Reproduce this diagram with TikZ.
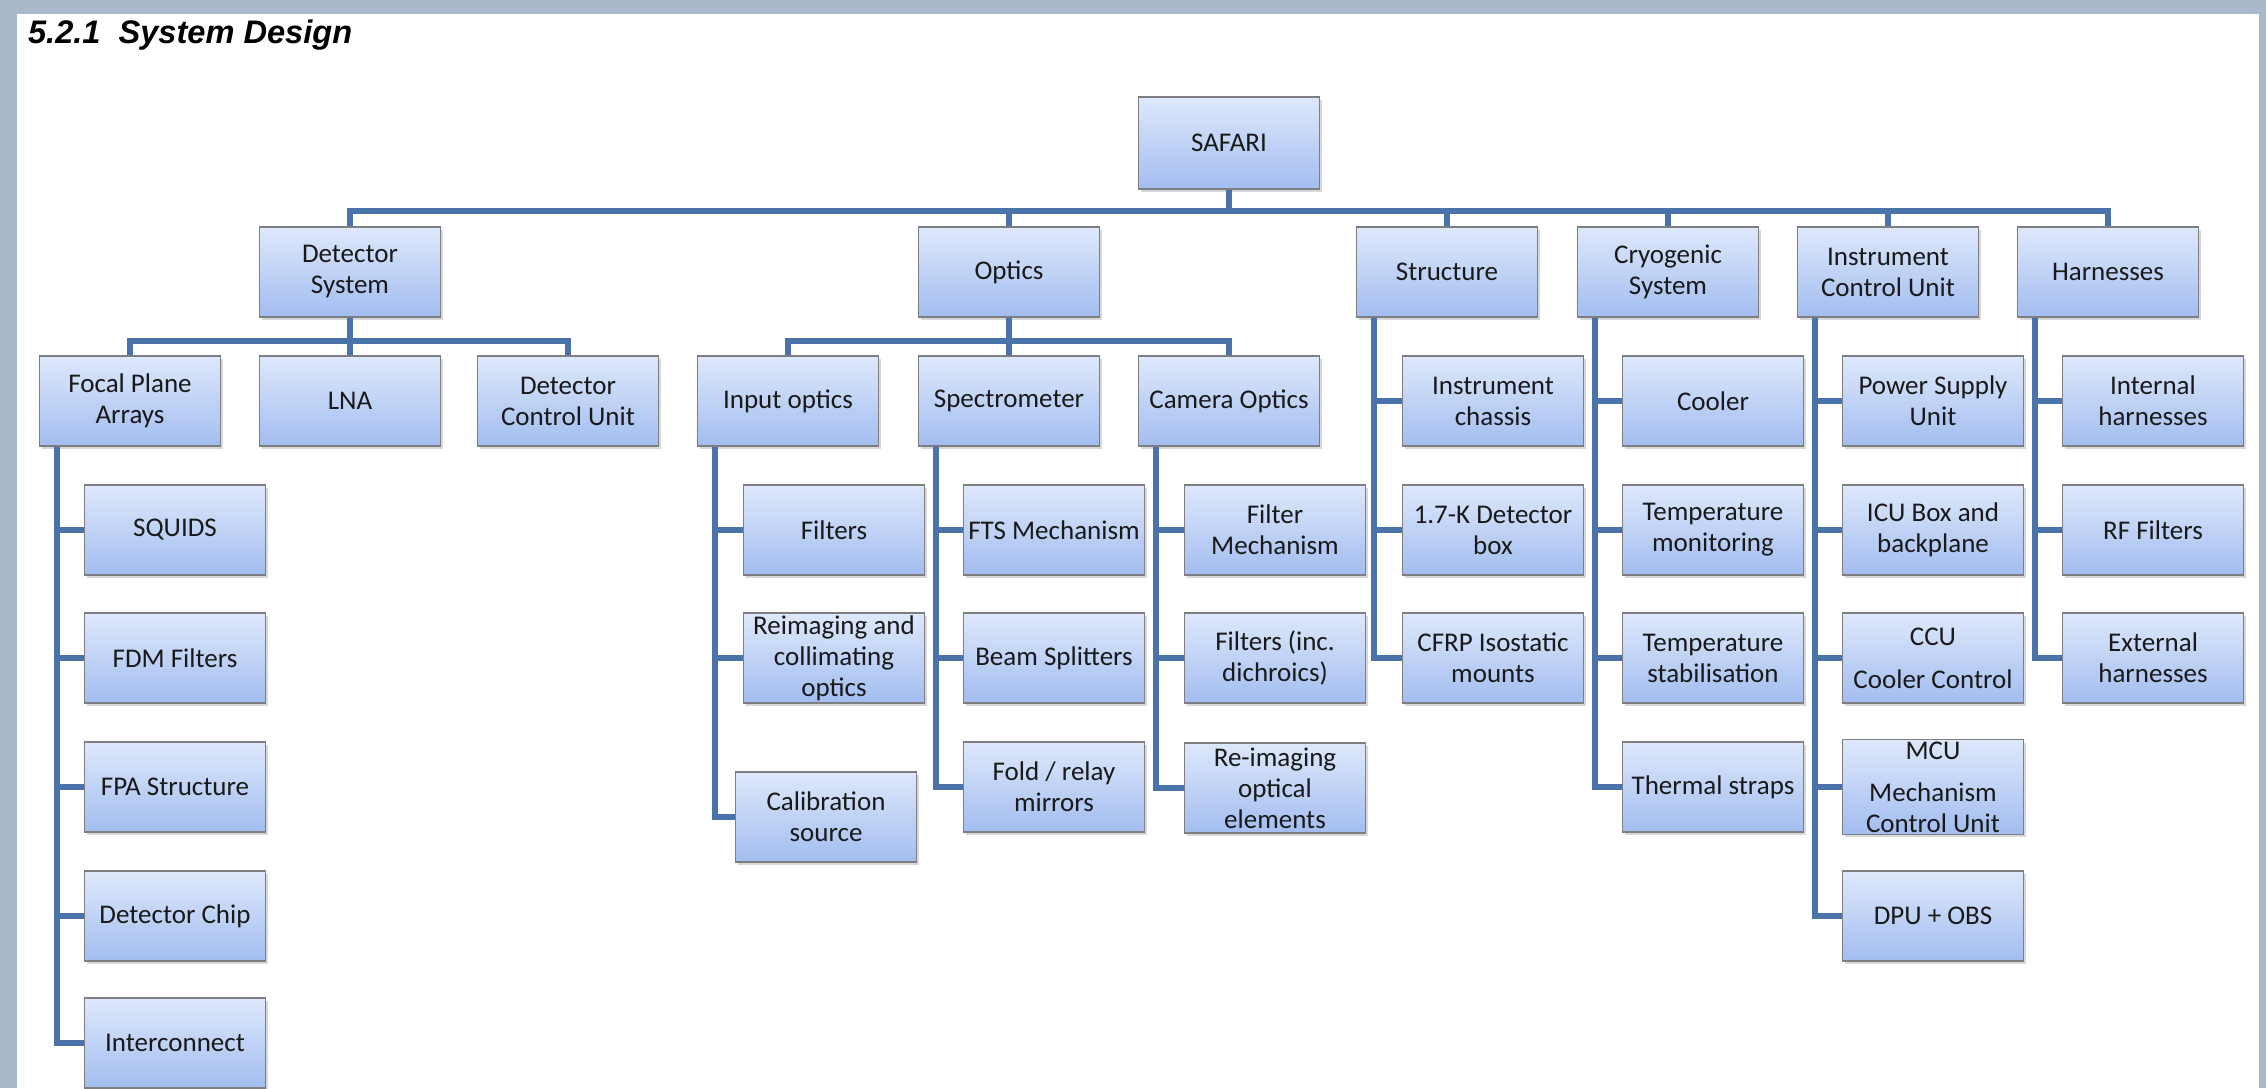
\documentclass[tikz,border=0pt]{standalone}
\usepackage{fontspec}
\setmainfont{Carlito}
\newfontfamily\headfont{Liberation Sans}
\usepackage{tikz}
\usetikzlibrary{calc}
\usetikzlibrary{shadows}
\usetikzlibrary{positioning}
\definecolor{framegray}{RGB}{167, 185, 202}
\definecolor{linkblue}{RGB}{74, 115, 170}
\definecolor{boxtop}{RGB}{222, 232, 251}
\definecolor{boxbottom}{RGB}{162, 189, 240}
\definecolor{boxedge}{RGB}{125, 125, 130}
\tikzset{
  box/.style={draw=boxedge, line width=0.6pt, top color=boxtop, bottom color=boxbottom,
              minimum width=90.5pt, minimum height=45pt, inner sep=1pt, align=center,
              text=black!90, font=\fontsize{13.5}{15.5}\selectfont,
              drop shadow={shadow xshift=1pt, shadow yshift=-1.5pt, opacity=0.3}},
  link/.style={draw=linkblue, line width=3pt},
  heading/.style={anchor=base west, font=\headfont\bfseries\itshape\fontsize{16.3}{19}\selectfont}
}

\begin{document}
\begin{tikzpicture}[x=0.5pt, y=-0.5pt]
            \fill[framegray]                (0, 0) rectangle (2266, 1088);
            \fill[white]                    (17, 14) rectangle (2259, 1088);
            \useasboundingbox               (0, 0) rectangle (2266, 1088);
            \node[heading] (head)           at (  21,   43) {5.2.1\hspace{9pt}System Design};

            % top and first level
            \node[box, minimum height=46pt] (safari) at (1229, 143) {SAFARI};
            \node[box] (det)      at ( 350,  272) {Detector\\System};
            \node[box] (opt)      at (1009,  272) {Optics};
            \node[box] (str)      at (1447,  272) {Structure};
            \node[box] (cry)      at (1668,  272) {Cryogenic\\System};
            \node[box] (icu)      at (1888,  272) {Instrument\\Control Unit};
            \node[box] (har)      at (2108,  272) {Harnesses};

            % detector system
            \node[box] (fpa)      at ( 130,  401) {Focal Plane\\Arrays};
            \node[box] (lna)      at ( 350,  401) {LNA};
            \node[box] (dcu)      at ( 568,  401) {Detector\\Control Unit};
            \node[box] (squids)   at ( 175,  530) {SQUIDS};
            \node[box] (fdm)      at ( 175,  658) {FDM Filters};
            \node[box] (fpastr)   at ( 175,  787) {FPA Structure};
            \node[box] (chip)     at ( 175,  916) {Detector Chip};
            \node[box] (intercon) at ( 175, 1043) {Interconnect};

            % optics
            \node[box] (inp)      at ( 788,  401) {Input optics};
            \node[box] (spe)      at (1009,  401) {Spectrometer};
            \node[box] (cam)      at (1229,  401) {Camera Optics};
            \node[box] (infil)    at ( 834,  530) {Filters};
            \node[box] (reimg)    at ( 834,  658) {Reimaging and\\collimating\\optics};
            \node[box] (calib)    at ( 826,  817) {Calibration\\source};
            \node[box] (fts)      at (1054,  530) {FTS Mechanism};
            \node[box] (split)    at (1054,  658) {Beam Splitters};
            \node[box] (fold)     at (1054,  787) {Fold / relay\\mirrors};
            \node[box] (filmech)  at (1275,  530) {Filter\\Mechanism};
            \node[box] (filinc)   at (1275,  658) {Filters (inc.\\dichroics)};
            \node[box] (reopt)    at (1275,  788) {Re-imaging\\optical\\elements};

            % structure, cryogenics, ICU, harnesses
            \node[box] (chassis)  at (1493,  401) {Instrument\\chassis};
            \node[box] (detbox)   at (1493,  530) {1.7-K Detector\\box};
            \node[box] (cfrp)     at (1493,  658) {CFRP Isostatic\\mounts};
            \node[box] (cooler)   at (1713,  401) {Cooler};
            \node[box] (tmon)     at (1713,  530) {Temperature\\monitoring};
            \node[box] (tstab)    at (1713,  658) {Temperature\\stabilisation};
            \node[box] (straps)   at (1713,  787) {Thermal straps};
            \node[box] (psu)      at (1933,  401) {Power Supply\\Unit};
            \node[box] (icubox)   at (1933,  530) {ICU Box and\\backplane};
            \node[box] (ccu)      at (1933,  658) {CCU\\[6pt]Cooler Control};
            \node[box] (mcu)      at (1933,  787) {MCU\\[5.5pt]Mechanism\\Control Unit};
            \node[box] (dpu)      at (1933,  916) {DPU + OBS};
            \node[box] (intharn)  at (2153,  401) {Internal\\harnesses};
            \node[box] (rffil)    at (2153,  530) {RF Filters};
            \node[box] (extharn)  at (2153,  658) {External\\harnesses};

            % buses
            \draw[link] (safari.south) -- ++(0,21) -| (det.north)
                        (safari.south) -- ++(0,21) -| (opt.north)
                        (safari.south) -- ++(0,21) -| (str.north)
                        (safari.south) -- ++(0,21) -| (cry.north)
                        (safari.south) -- ++(0,21) -| (icu.north)
                        (safari.south) -- ++(0,21) -| (har.north);
            \draw[link] (det.south) -- ++(0,23) -| (fpa.north)
                        (det.south) -- ++(0,23) -| (lna.north)
                        (det.south) -- ++(0,23) -| (dcu.north);
            \draw[link] (opt.south) -- ++(0,23) -| (inp.north)
                        (opt.south) -- ++(0,23) -| (spe.north)
                        (opt.south) -- ++(0,23) -| (cam.north);

            % trunks
            \coordinate (fpatrunk) at ([xshift=9pt]fpa.south west);
            \coordinate (inptrunk) at ([xshift=9pt]inp.south west);
            \coordinate (spetrunk) at ([xshift=9pt]spe.south west);
            \coordinate (camtrunk) at ([xshift=9pt]cam.south west);
            \coordinate (strtrunk) at ([xshift=9pt]str.south west);
            \coordinate (crytrunk) at ([xshift=9pt]cry.south west);
            \coordinate (icutrunk) at ([xshift=9pt]icu.south west);
            \coordinate (hartrunk) at ([xshift=9pt]har.south west);
            \draw[link] (fpatrunk) |- (squids.west) (fpatrunk) |- (fdm.west) (fpatrunk) |- (fpastr.west)
                        (fpatrunk) |- (chip.west) (fpatrunk) |- (intercon.west);
            \draw[link] (inptrunk) |- (infil.west) (inptrunk) |- (reimg.west) (inptrunk) |- (calib.west);
            \draw[link] (spetrunk) |- (fts.west) (spetrunk) |- (split.west) (spetrunk) |- (fold.west);
            \draw[link] (camtrunk) |- (filmech.west) (camtrunk) |- (filinc.west) (camtrunk) |- (reopt.west);
            \draw[link] (strtrunk) |- (chassis.west) (strtrunk) |- (detbox.west) (strtrunk) |- (cfrp.west);
            \draw[link] (crytrunk) |- (cooler.west) (crytrunk) |- (tmon.west) (crytrunk) |- (tstab.west)
                        (crytrunk) |- (straps.west);
            \draw[link] (icutrunk) |- (psu.west) (icutrunk) |- (icubox.west) (icutrunk) |- (ccu.west)
                        (icutrunk) |- (mcu.west) (icutrunk) |- (dpu.west);
            \draw[link] (hartrunk) |- (intharn.west) (hartrunk) |- (rffil.west) (hartrunk) |- (extharn.west);
\end{tikzpicture}
\end{document}
